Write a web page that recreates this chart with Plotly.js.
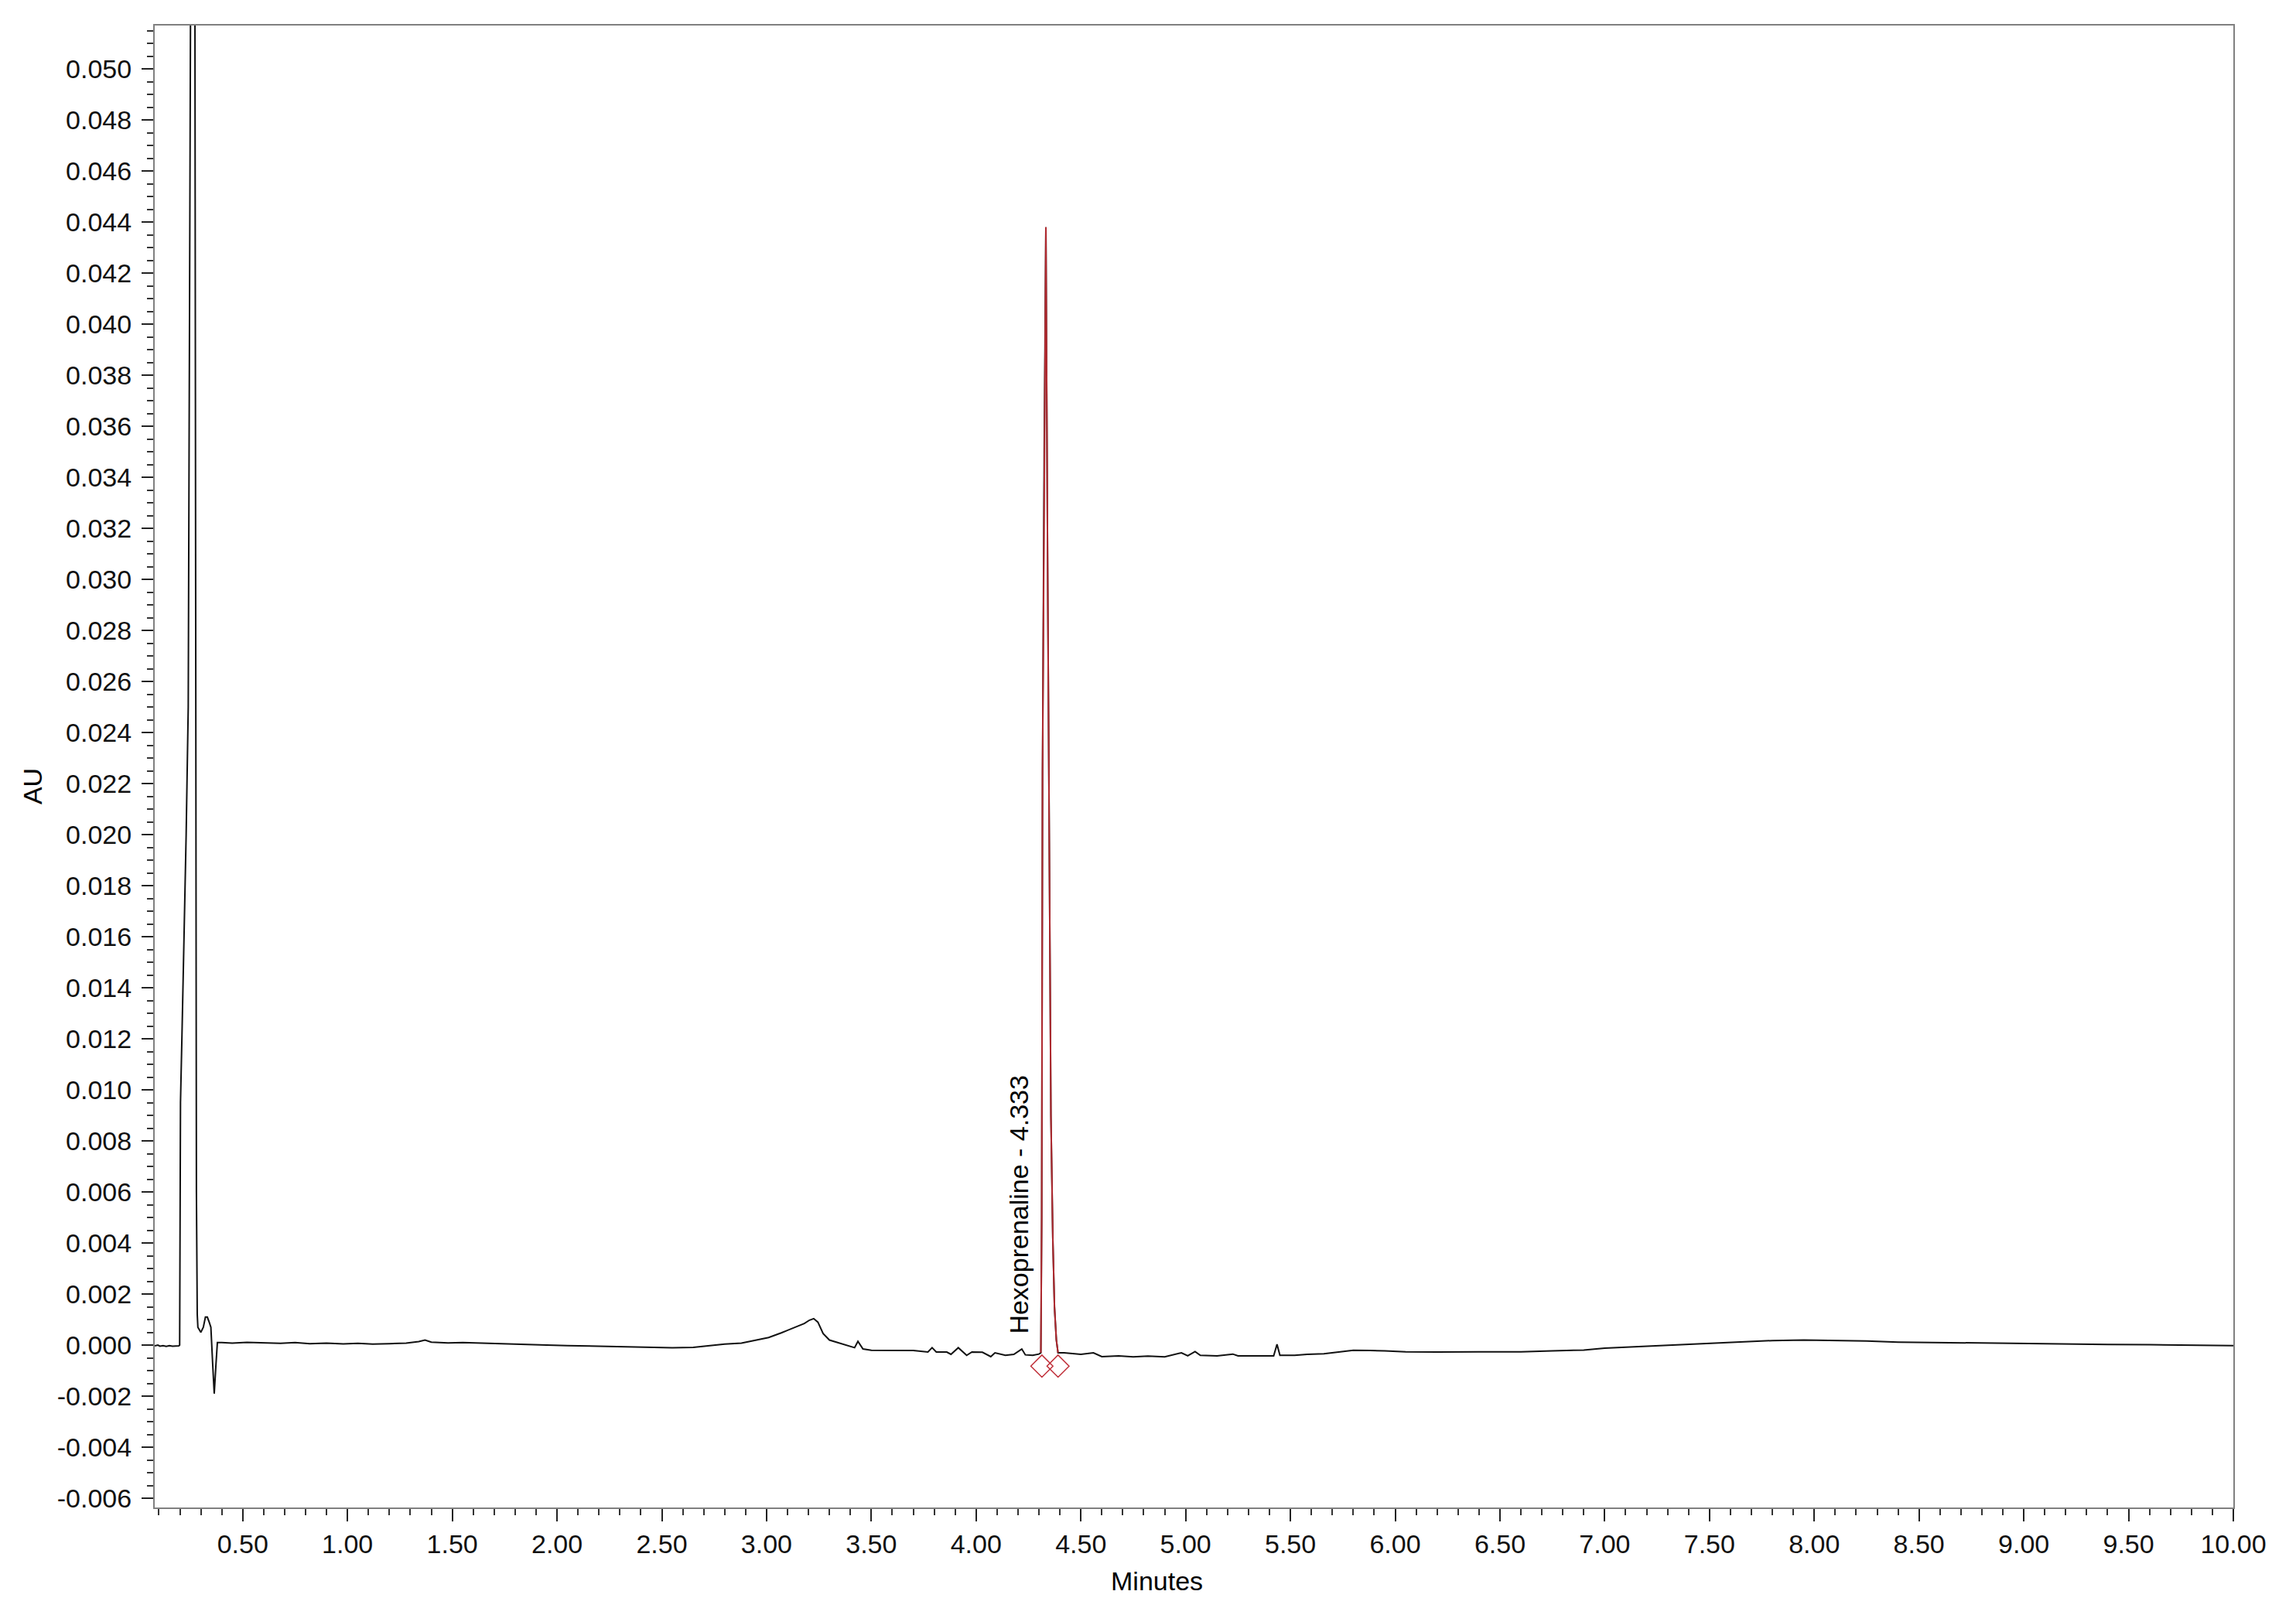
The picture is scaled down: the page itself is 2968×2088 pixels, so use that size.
<!DOCTYPE html>
<html>
<head>
<meta charset="utf-8">
<script src="https://cdn.plot.ly/plotly-3.0.1.min.js"></script>
<style>
  html, body { margin: 0; padding: 0; background: #fff; }
  #chart { width: 2968px; height: 2088px; }
</style>
</head>
<body>
<div id="chart"></div>
<script>
// chromatogram (minutes, AU)
const timeMin = [
  0.080, 0.095, 0.105, 0.120, 0.135, 0.150, 0.165, 0.180, 0.195, 0.199,
  0.203, 0.211, 0.221, 0.230, 0.240, 0.253, 0.262, 0.272, 0.275, 0.279,
  0.283, 0.286, 0.300, 0.312, 0.322, 0.331, 0.340, 0.348, 0.357, 0.364,
  0.372, 0.379, 0.400, 0.450, 0.520, 0.600, 0.680, 0.750, 0.820, 0.900,
  0.980, 1.050, 1.120, 1.200, 1.280, 1.340, 1.370, 1.400, 1.480, 1.550,
  1.620, 1.700, 1.780, 1.860, 1.950, 2.050, 2.150, 2.250, 2.350, 2.450,
  2.550, 2.650, 2.720, 2.800, 2.880, 2.950, 3.010, 3.070, 3.130, 3.180,
  3.205, 3.225, 3.245, 3.270, 3.300, 3.340, 3.390, 3.420, 3.436, 3.460,
  3.500, 3.600, 3.700, 3.770, 3.790, 3.810, 3.860, 3.880, 3.915, 3.955,
  3.980, 4.030, 4.070, 4.090, 4.140, 4.180, 4.218, 4.235, 4.270, 4.300,
  4.309, 4.313, 4.317, 4.325, 4.333, 4.341, 4.349, 4.357, 4.366, 4.374,
  4.383, 4.391, 4.420, 4.450, 4.500, 4.560, 4.600, 4.680, 4.750, 4.820,
  4.900, 4.980, 5.010, 5.045, 5.070, 5.150, 5.225, 5.250, 5.330, 5.420,
  5.436, 5.450, 5.520, 5.580, 5.660, 5.740, 5.800, 5.880, 5.950, 6.050,
  6.200, 6.400, 6.600, 6.750, 6.900, 7.000, 7.100, 7.200, 7.350, 7.500,
  7.650, 7.800, 7.950, 8.100, 8.250, 8.400, 8.600, 8.800, 9.000, 9.200,
  9.400, 9.600, 9.800, 10.000
];
const absorbance = [
  -0.00003, 0.00000, -0.00004, -0.00002, -0.00005, -0.00002, -0.00004, -0.00003, -0.00003, 0.00000,
  0.00950, 0.01250, 0.01600, 0.02000, 0.02500, 0.05200, 0.08000, 0.05200, 0.02500, 0.00600,
  0.00120, 0.00070, 0.00050, 0.00070, 0.00110, 0.00110, 0.00090, 0.00070, -0.00080, -0.00190,
  -0.00080, 0.00010, 0.00010, 0.00008, 0.00011, 0.00009, 0.00007, 0.00010, 0.00006, 0.00008,
  0.00005, 0.00007, 0.00004, 0.00006, 0.00008, 0.00014, 0.00020, 0.00012, 0.00009, 0.00010,
  0.00008, 0.00006, 0.00004, 0.00002, 0.00000, -0.00002, -0.00004, -0.00006, -0.00008, -0.00010,
  -0.00010, -0.00009, -0.00003, 0.00004, 0.00008, 0.00020, 0.00030, 0.00048, 0.00068, 0.00085,
  0.00098, 0.00104, 0.00090, 0.00045, 0.00020, 0.00010, -0.00003, -0.00010, 0.00015, -0.00015,
  -0.00020, -0.00020, -0.00021, -0.00027, -0.00010, -0.00027, -0.00027, -0.00036, -0.00010, -0.00040,
  -0.00027, -0.00028, -0.00045, -0.00030, -0.00040, -0.00036, -0.00015, -0.00038, -0.00040, -0.00035,
  -0.00030, 0.00500, 0.02250, 0.03500, 0.04380, 0.03100, 0.01800, 0.00900, 0.00420, 0.00150,
  0.00020, -0.00030, -0.00030, -0.00032, -0.00036, -0.00030, -0.00045, -0.00042, -0.00046, -0.00043,
  -0.00046, -0.00030, -0.00042, -0.00025, -0.00040, -0.00042, -0.00035, -0.00042, -0.00041, -0.00042,
  0.00003, -0.00040, -0.00040, -0.00036, -0.00034, -0.00027, -0.00020, -0.00021, -0.00022, -0.00026,
  -0.00027, -0.00026, -0.00026, -0.00022, -0.00019, -0.00012, -0.00008, -0.00004, 0.00002, 0.00008,
  0.00014, 0.00018, 0.00020, 0.00019, 0.00016, 0.00012, 0.00010, 0.00007, 0.00005, 0.00004,
  0.00003, 0.00002, 0.00001, -0.00002
];

// integrated peak
const peakName = 'Hexoprenaline';
const peakRT = 4.333;
const peakStart = 4.309;
const peakEnd = 4.391;
const markTime = [4.314, 4.391];
const markAU = [-0.00082, -0.00082];

// axis ticks
const xTickVals = [0.5, 1, 1.5, 2, 2.5, 3, 3.5, 4, 4.5, 5, 5.5, 6, 6.5, 7, 7.5, 8, 8.5, 9, 9.5, 10];
const xTickText = ['0.50', '1.00', '1.50', '2.00', '2.50', '3.00', '3.50', '4.00', '4.50', '5.00',
                   '5.50', '6.00', '6.50', '7.00', '7.50', '8.00', '8.50', '9.00', '9.50', '10.00'];
const yTickVals = [-0.006, -0.004, -0.002, 0, 0.002, 0.004, 0.006, 0.008, 0.010, 0.012, 0.014,
                   0.016, 0.018, 0.020, 0.022, 0.024, 0.026, 0.028, 0.030, 0.032, 0.034, 0.036,
                   0.038, 0.040, 0.042, 0.044, 0.046, 0.048, 0.050];
const yTickText = ['-0.006', '-0.004', '-0.002', '0.000', '0.002', '0.004', '0.006', '0.008',
                   '0.010', '0.012', '0.014', '0.016', '0.018', '0.020', '0.022', '0.024',
                   '0.026', '0.028', '0.030', '0.032', '0.034', '0.036', '0.038', '0.040',
                   '0.042', '0.044', '0.046', '0.048', '0.050'];

const peakX = [], peakY = [];
timeMin.forEach((t, i) => {
  if (t >= peakStart && t <= peakEnd) { peakX.push(t); peakY.push(absorbance[i]); }
});

const FONT = 'Liberation Sans, Arial, sans-serif';

const trace = {
  x: timeMin, y: absorbance, mode: 'lines',
  line: { color: '#111111', width: 2 },
  hoverinfo: 'x+y'
};
const peak = {
  x: peakX, y: peakY, mode: 'lines',
  line: { color: '#b02a30', width: 2 }
};
const marks = {
  x: markTime, y: markAU, mode: 'markers',
  marker: { symbol: 'diamond-open', size: 22, color: '#c0303a', line: { width: 1.5, color: '#c0303a' } }
};

const axisBase = {
  showgrid: false, zeroline: false,
  showline: true, linecolor: '#808080', linewidth: 2, mirror: true,
  ticks: 'outside', tickwidth: 2, tickcolor: '#222',
  tickfont: { family: FONT, size: 34, color: '#111' },
  tickmode: 'array'
};

const layout = {
  width: 2968, height: 2088,
  paper_bgcolor: '#fff', plot_bgcolor: '#fff',
  showlegend: false,
  margin: { l: 200, r: 81, t: 33, b: 139 },
  xaxis: Object.assign({}, axisBase, {
    range: [0.08, 10.0],
    tickvals: xTickVals, ticktext: xTickText, ticklen: 16,
    minor: { tickmode: 'linear', tick0: 0, dtick: 0.1, ticks: 'outside', ticklen: 8, tickwidth: 2, tickcolor: '#333' }
  }),
  yaxis: Object.assign({}, axisBase, {
    range: [-0.00636, 0.0517],
    tickvals: yTickVals, ticktext: yTickText, ticklen: 15,
    ticklabelstandoff: 6,
    minor: { tickmode: 'linear', tick0: 0, dtick: 0.0005, ticks: 'outside', ticklen: 8, tickwidth: 2, tickcolor: '#333' }
  }),
  annotations: [
    {
      text: peakName + ' - ' + peakRT.toFixed(3),
      x: peakRT, y: 0, xref: 'x', yref: 'y',
      xanchor: 'center', yanchor: 'bottom', xshift: -35, yshift: 12,
      textangle: -90, showarrow: false,
      font: { family: FONT, size: 34, color: '#000' }
    },
    {
      text: 'AU', xref: 'paper', yref: 'paper', x: 0, y: 0.4864,
      xshift: -158, xanchor: 'center', yanchor: 'middle', textangle: -90, showarrow: false,
      font: { family: FONT, size: 34, color: '#000' }
    },
    {
      text: 'Minutes', xref: 'paper', yref: 'paper', x: 0.4823, y: 0,
      yshift: -95, xanchor: 'center', yanchor: 'middle', showarrow: false,
      font: { family: FONT, size: 34, color: '#000' }
    }
  ]
};

Plotly.newPlot('chart', [trace, peak, marks], layout, { displayModeBar: false, staticPlot: true });
</script>
</body>
</html>
